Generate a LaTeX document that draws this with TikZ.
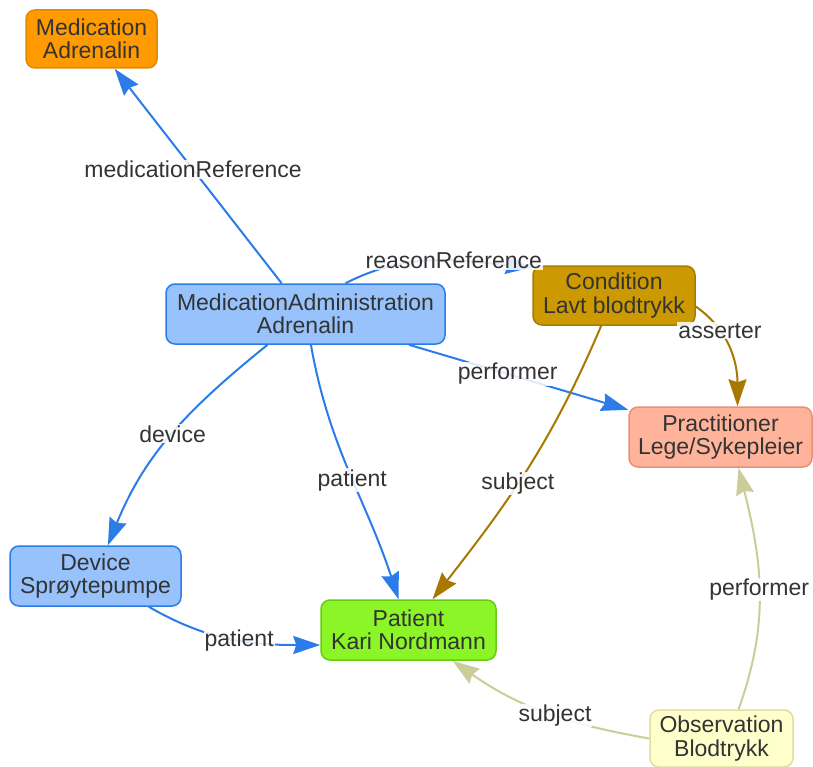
\documentclass[tikz,border=0pt]{standalone}
\usepackage{fontspec}
\setmainfont{Liberation Sans}
\usetikzlibrary{arrows.meta}

\definecolor{txt}{HTML}{333333}
\definecolor{medfill}{HTML}{FF9A00}
\definecolor{medline}{HTML}{E08A00}
\definecolor{bluefill}{HTML}{97C2FC}
\definecolor{blueline}{HTML}{2B7CE9}
\definecolor{condfill}{HTML}{CC9900}
\definecolor{condline}{HTML}{A67C00}
\definecolor{pracfill}{HTML}{FFB39A}
\definecolor{pracline}{HTML}{E8907A}
\definecolor{patfill}{HTML}{8CF527}
\definecolor{patline}{HTML}{66CC11}
\definecolor{obsfill}{HTML}{FFFFCC}
\definecolor{obsline}{HTML}{E0DDA0}
\definecolor{goldedge}{HTML}{A87800}
\definecolor{khakiedge}{HTML}{CCCC99}

\begin{document}
\begin{tikzpicture}[x=1pt,y=1pt,
  font=\fontsize{23}{23.5}\selectfont,
  box/.style={draw, rounded corners=9pt, line width=1.5pt, align=center,
    text=txt, inner sep=0pt},
  lbl/.style={text=txt, fill=white, fill opacity=0.85, text opacity=1,
    inner sep=1pt},
  link/.style={line width=2pt, -{Stealth[length=27pt,width=18pt,inset=3pt]}},
  bluelink/.style={link, draw=blueline},
  goldlink/.style={link, draw=goldedge},
  khakilink/.style={link, draw=khakiedge}]
\useasboundingbox (0,0) rectangle (813,-767);

% resources
\node[box, fill=medfill, draw=medline, minimum width=131pt, minimum height=58pt]
  (med) at (91.5,-39) {Medication\\Adrenalin};
\node[box, fill=bluefill, draw=blueline, minimum width=279pt, minimum height=60pt]
  (ma) at (305.5,-314) {MedicationAdministration\\Adrenalin};
\node[box, fill=condfill, draw=condline, minimum width=162pt, minimum height=59pt]
  (cond) at (614,-295.5) {Condition\\Lavt blodtrykk};
\node[box, fill=pracfill, draw=pracline, minimum width=183pt, minimum height=60pt]
  (prac) at (720.5,-437) {Practitioner\\Lege/Sykepleier};
\node[box, fill=bluefill, draw=blueline, minimum width=171pt, minimum height=60pt]
  (dev) at (95.5,-576) {Device\\Sprøytepumpe};
\node[box, fill=patfill, draw=patline, minimum width=175pt, minimum height=60pt]
  (pat) at (408.5,-630) {Patient\\Kari Nordmann};
\node[box, fill=obsfill, draw=obsline, minimum width=143pt, minimum height=57pt]
  (obs) at (721.5,-738.5) {Observation\\Blodtrykk};

% references
\draw[bluelink] (ma) -- node[lbl, pos=0.53] {medicationReference} (med);
\draw[bluelink] ([xshift=40pt]ma.north) to[out=27, in=175]
  node[lbl, pos=0.6] {reasonReference} ([yshift=-2pt]cond.north west);
\draw[bluelink] (ma) -- node[lbl, pos=0.45] {performer} (prac);
\draw[bluelink] (ma) to[out=219, in=68] node[lbl, pos=0.5] {device} (dev);
\draw[bluelink] (ma) to[out=280, in=108] node[lbl, pos=0.53] {patient} (pat);
\draw[goldlink] (cond) to[out=247, in=52] node[lbl, pos=0.56] {subject} (pat);
\draw[goldlink] ([yshift=-11pt]cond.east) to[out=-35, in=90]
  node[lbl, pos=0.3] {asserter} ([xshift=17pt]prac.north);
\draw[bluelink] (dev) to[out=-30, in=180] node[lbl, pos=0.55] {patient}
  ([yshift=-15pt]pat.west);
\draw[khakilink] ([xshift=17pt]obs.north) to[out=70, in=-76]
  node[lbl, pos=0.5] {performer} ([xshift=18pt]prac.south);
\draw[khakilink] (obs.west) to[out=170, in=-35] node[lbl, pos=0.45] {subject}
  ([xshift=44pt]pat.south);
\end{tikzpicture}
\end{document}
